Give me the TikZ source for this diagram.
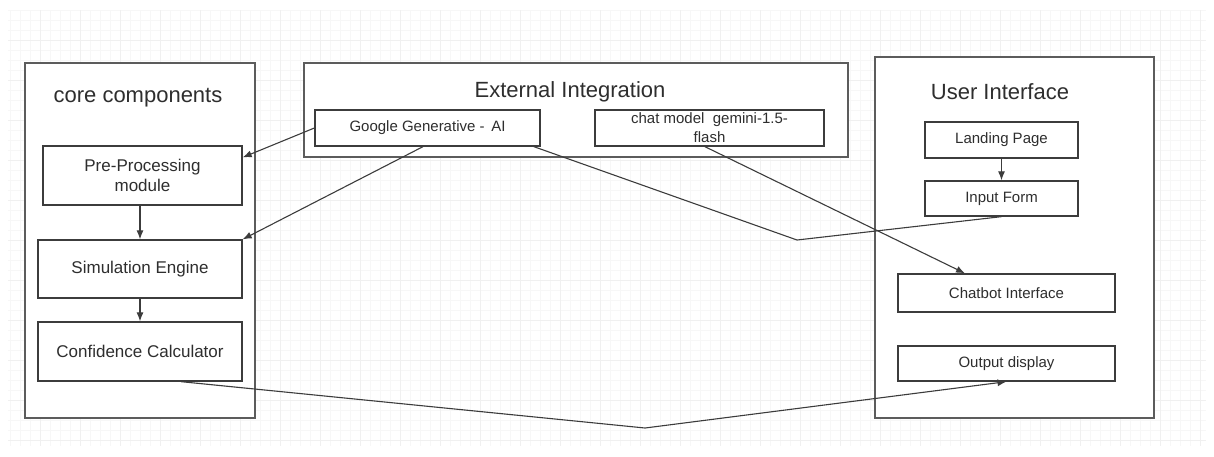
\documentclass[tikz,border=0pt]{standalone}
\usepackage{fontspec}
\setmainfont{Liberation Sans}
\usetikzlibrary{arrows.meta,calc}
\definecolor{linegray}{HTML}{3C3C3C}
\definecolor{framegray}{HTML}{5C5C5C}
\definecolor{textgray}{HTML}{2E2E2E}
\begin{document}
\begin{tikzpicture}[x=1pt,y=-1pt,
    groupbox/.style={draw=framegray, line width=1.8pt, fill=white, inner sep=0pt},
    corebox/.style={draw=linegray, line width=1.3pt, fill=white, inner sep=0pt,
        align=center, text=textgray, font=\fontsize{17}{20}\selectfont},
    smallbox/.style={draw=linegray, line width=1.3pt, fill=white, inner sep=0pt,
        align=center, text=textgray, font=\fontsize{15}{19}\selectfont},
    headtext/.style={text=textgray, font=\fontsize{22}{26}\selectfont},
    conn/.style={draw=linegray, line width=1.1pt, -{Latex[length=9pt,width=7pt]}},
    plainconn/.style={draw=linegray, line width=1.1pt}]
    \useasboundingbox (0,0) rectangle (1214,456);

    % Rejilla de fondo
    \draw[black!3, line width=0.6pt, step=10pt] (8,10) grid (1206,446);
    \draw[black!6, line width=0.6pt, step=40pt] (8,10) grid (1206,446);

    % Grupos
    \node[groupbox, minimum width=230pt, minimum height=355pt] (core) at (140,240.5) {};
    \node[groupbox, minimum width=544pt, minimum height=94pt] (ext) at (576,110) {};
    \node[groupbox, minimum width=279pt, minimum height=361pt] (ui) at (1014.5,237.5) {};

    \node[headtext] (coretitle) at (138,98) {core components};
    \node[headtext] (exttitle) at (570,92) {External Integration};
    \node[headtext] (uititle) at (1000,92) {User Interface};

    % Componentes principales
    \node[corebox, minimum width=199pt, minimum height=59pt] (pre) at (142.5,175.5) {Pre-Processing\\module};
    \node[corebox, minimum width=204pt, minimum height=58pt] (sim) at (140,269) {Simulation Engine};
    \node[corebox, minimum width=204pt, minimum height=59pt] (conf) at (140,351.5) {Confidence Calculator};

    % Integracion externa
    \node[smallbox, minimum width=225pt, minimum height=36pt] (google) at (427.5,128) {Google Generative - \,AI};
    \node[smallbox, minimum width=229pt, minimum height=36pt] (chat) at (709.5,128) {chat model \ gemini-1.5-\\flash};

    % Interfaz de usuario
    \node[smallbox, minimum width=153pt, minimum height=36pt] (landing) at (1001.5,140) {Landing Page};
    \node[smallbox, minimum width=153pt, minimum height=35pt] (input) at (1001.5,198.5) {Input Form};
    \node[smallbox, minimum width=217pt, minimum height=38pt] (chatbot) at (1006.5,293) {Chatbot Interface};
    \node[smallbox, minimum width=217pt, minimum height=35pt] (output) at (1006.5,363.5) {Output display};

    % Conexiones
    \coordinate (bendA) at (797,240);
    \coordinate (bendB) at (645,428);
    \draw[conn] (pre.south -| sim.north) -- (sim.north);
    \draw[conn] (sim.south) -- (conf.north);
    \draw[conn] (landing.south) -- (input.north);
    \draw[conn] (google.west) -- ($(pre.north east)!0.2!(pre.south east)$);
    \draw[conn] ($(google.south west)!0.48!(google.south east)$) -- (sim.north east);
    \draw[plainconn] ($(google.south west)!0.97!(google.south east)$) -- (bendA) -- (input.south);
    \draw[conn] ($(chat.south west)!0.48!(chat.south east)$) -- ($(chatbot.north west)!0.31!(chatbot.north east)$);
    \draw[conn] ($(conf.south west)!0.7!(conf.south east)$) -- (bendB) -- (output.south);
\end{tikzpicture}
\end{document}
